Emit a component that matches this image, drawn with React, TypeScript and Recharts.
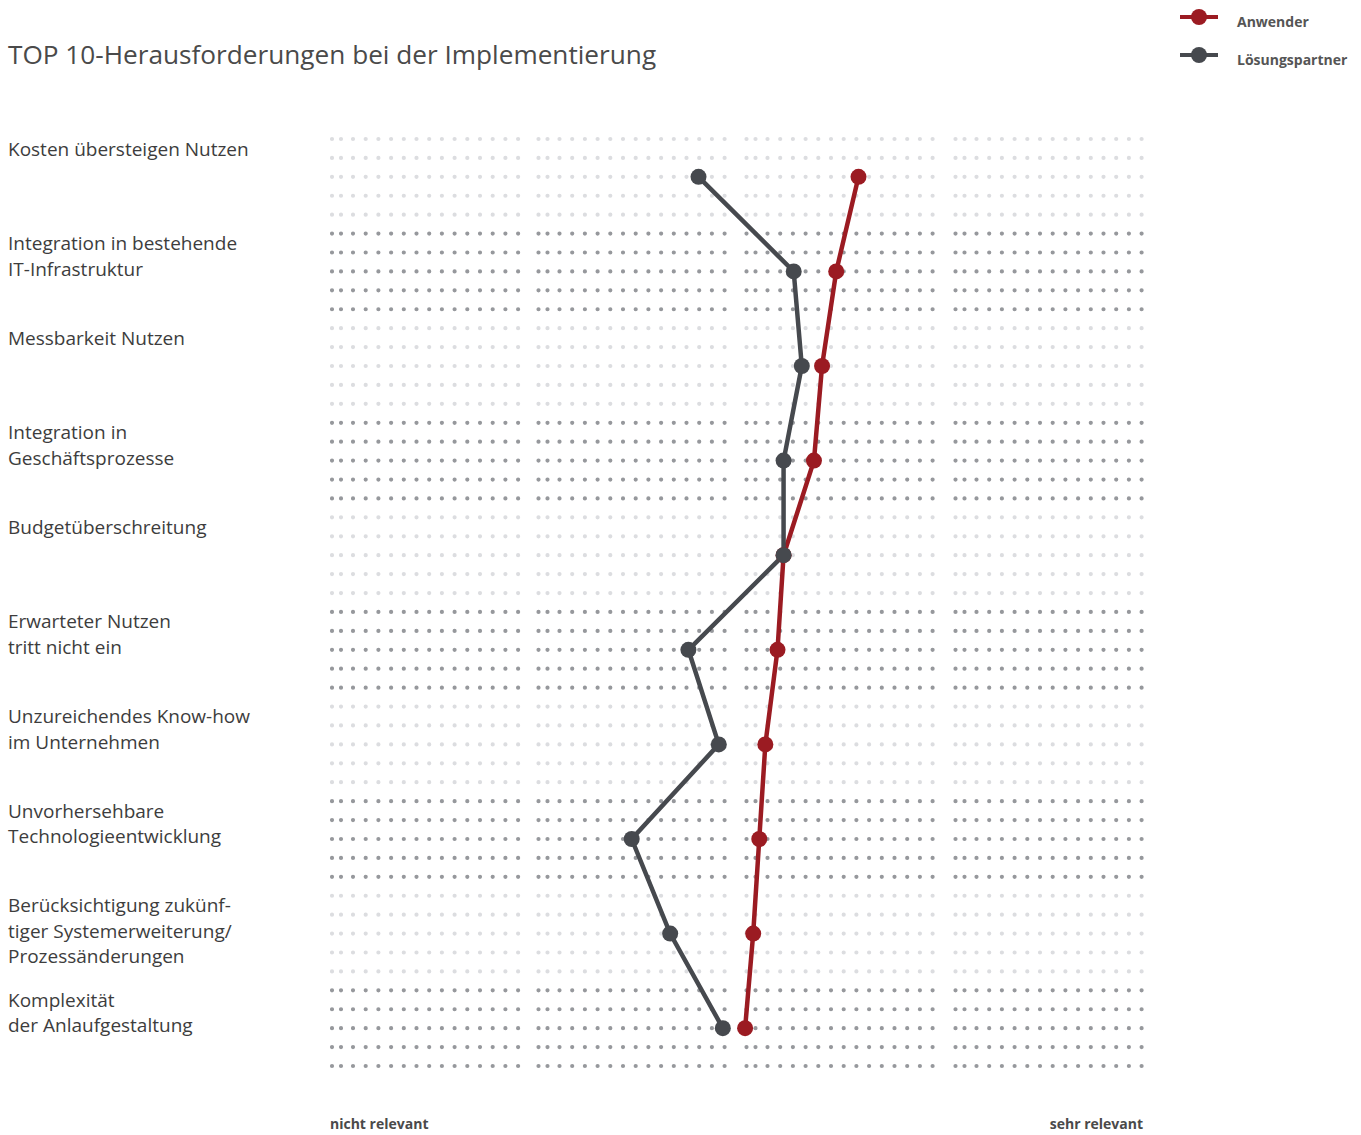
import { LineChart, Line, XAxis, YAxis, CartesianGrid } from "recharts";

// Categories top to bottom ("\n" = line break in the label)
const categories = [
  "Kosten übersteigen Nutzen",
  "Integration in bestehende\nIT-Infrastruktur",
  "Messbarkeit Nutzen",
  "Integration in\nGeschäftsprozesse",
  "Budgetüberschreitung",
  "Erwarteter Nutzen\ntritt nicht ein",
  "Unzureichendes Know-how\nim Unternehmen",
  "Unvorhersehbare\nTechnologieentwicklung",
  "Berücksichtigung zukünf-\ntiger Systemerweiterung/\nProzessänderungen",
  "Komplexität\nder Anlaufgestaltung",
];

// 1 = nicht relevant ... 5 = sehr relevant
const anwender = [3.6, 3.49, 3.42, 3.38, 3.23, 3.2, 3.14, 3.11, 3.08, 3.04];
const partner = [2.81, 3.28, 3.32, 3.23, 3.23, 2.76, 2.91, 2.48, 2.67, 2.93];

const seriesNames = ["Anwender", "Lösungspartner"];
const scaleLabels = ["nicht relevant", "sehr relevant"];

const ROWS_PER_CAT = 5;
const RED = "#9b1b22";
const GREY = "#46494e";
const FONT = "'Open Sans', 'Noto Sans', sans-serif";

const data = categories.map((name, i) => ({
  row: i * ROWS_PER_CAT + 2,
  name,
  anwender: anwender[i],
  partner: partner[i],
}));

const rowCount = categories.length * ROWS_PER_CAT;
const allRows = Array.from({ length: rowCount }, (_, r) => r);
const lightRows = allRows.filter((r) => Math.floor(r / ROWS_PER_CAT) % 2 === 0);
const darkRows = allRows.filter((r) => Math.floor(r / ROWS_PER_CAT) % 2 === 1);

// dotted rows: 4 blocks of 16 dots
const dotPositions: number[] = [];
[0, 206.5, 414.5, 623.5].forEach((start) => {
  const inner = [0, 9, 21];
  for (let k = 1; k <= 13; k++) inner.push(21 + 12.7 * k);
  inner.forEach((p) => dotPositions.push(start + p));
});
const dotDash = dotPositions
  .map((p, i) => `0 ${(i < dotPositions.length - 1 ? dotPositions[i + 1] - p : 200).toFixed(2)}`)
  .join(" ");

// row index -> pixel, same linear mapping as the Y axis domain [0, rowCount-1] (row 0 on top)
const rowGen = (rows: number[]) => (p: any) => {
  const s = p?.yAxis?.scale;
  if (typeof s === "function") return rows.map((r) => s(r));
  const { top, height } = p.offset;
  return rows.map((r) => top + (r / (rowCount - 1)) * height);
};

function CategoryTick(props: any) {
  const { y, payload } = props;
  const idx = Math.round(payload.value / ROWS_PER_CAT);
  const lines = (categories[idx] || "").split("\n");
  return (
    <text x={8} y={y + 16.5} fill="#3d3d3d" fontSize={19} fontFamily={FONT} textAnchor="start">
      {lines.map((l, k) => (
        <tspan key={k} x={8} dy={k === 0 ? 0 : 25.5}>
          {l}
        </tspan>
      ))}
    </text>
  );
}

export default function App() {
  return (
    <div style={{ position: "absolute", left: 0, top: 0, width: 1361, height: 1135, background: "#fff", fontFamily: FONT, overflow: "hidden" }}>
      <div style={{ position: "absolute", left: 8, top: 36, fontSize: 26.2, color: "#4a4a4a", lineHeight: "36px", whiteSpace: "nowrap" }}>
        TOP 10-Herausforderungen bei der Implementierung
      </div>

      {/* legend */}
      {[RED, GREY].map((c, i) => (
        <div key={i} style={{ position: "absolute", left: 1180, top: 5 + i * 38, height: 24, display: "flex", alignItems: "center" }}>
          <svg width={40} height={24}>
            <line x1={0} x2={38} y1={12} y2={12} stroke={c} strokeWidth={4} />
            <circle cx={19} cy={12} r={8} fill={c} />
          </svg>
          <span style={{ marginLeft: 17, marginTop: 8, fontSize: 14, fontWeight: 700, color: "#555" }}>{seriesNames[i]}</span>
        </div>
      ))}

      <LineChart
        width={1361}
        height={1135}
        layout="vertical"
        data={data}
        margin={{ top: 139, right: 219, bottom: 69, left: 8 }}
      >
        <CartesianGrid
          vertical={false}
          stroke="#dcdde0"
          strokeWidth={4.2}
          strokeLinecap="round"
          strokeDasharray={dotDash}
          horizontalCoordinatesGenerator={rowGen(lightRows)}
        />
        <CartesianGrid
          vertical={false}
          stroke="#96989c"
          strokeWidth={4.2}
          strokeLinecap="round"
          strokeDasharray={dotDash}
          horizontalCoordinatesGenerator={rowGen(darkRows)}
        />
        <XAxis type="number" domain={[1, 5]} hide />
        <YAxis
          type="number"
          dataKey="row"
          domain={[0, rowCount - 1]}
          width={324}
          ticks={categories.map((_, i) => i * ROWS_PER_CAT)}
          interval={0}
          axisLine={false}
          tickLine={false}
          tick={<CategoryTick />}
        />
        <Line
          dataKey="anwender"
          name={seriesNames[0]}
          stroke={RED}
          strokeWidth={4.5}
          dot={{ r: 8, fill: RED, stroke: RED, strokeWidth: 0 }}
          activeDot={false}
          isAnimationActive={false}
        />
        <Line
          dataKey="partner"
          name={seriesNames[1]}
          stroke={GREY}
          strokeWidth={4.5}
          dot={{ r: 8, fill: GREY, stroke: GREY, strokeWidth: 0 }}
          activeDot={false}
          isAnimationActive={false}
        />
      </LineChart>

      <div style={{ position: "absolute", left: 330, top: 1114, fontSize: 14, lineHeight: "19px", fontWeight: 700, color: "#4a4a4a", whiteSpace: "nowrap" }}>
        {scaleLabels[0]}
      </div>
      <div style={{ position: "absolute", right: 1361 - 1143, top: 1114, fontSize: 14, lineHeight: "19px", fontWeight: 700, color: "#4a4a4a", whiteSpace: "nowrap" }}>
        {scaleLabels[1]}
      </div>
    </div>
  );
}
